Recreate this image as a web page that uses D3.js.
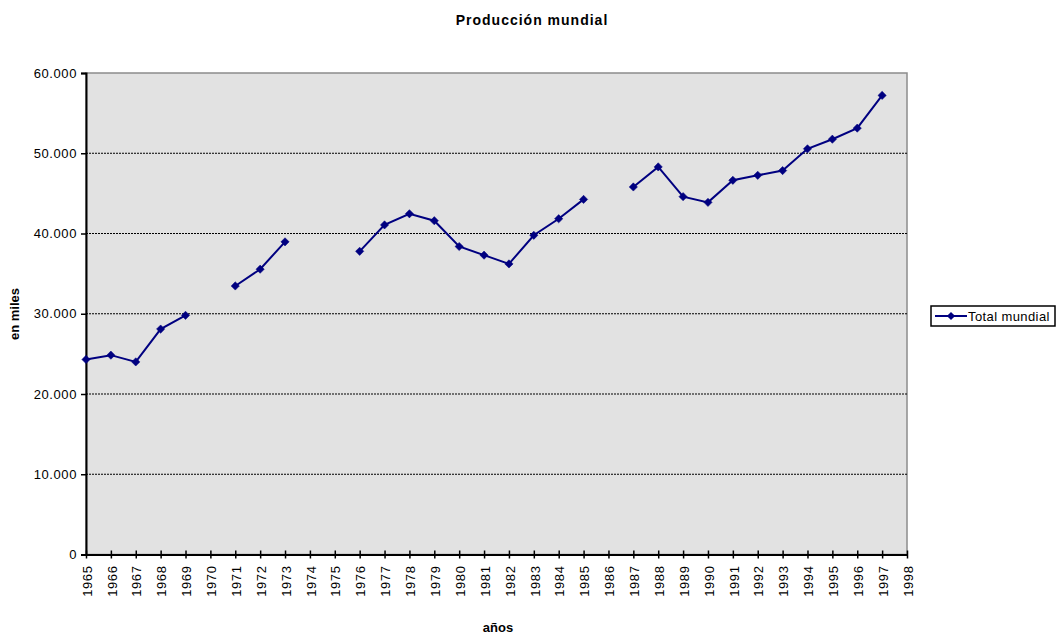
<!DOCTYPE html>
<html>
<head>
<meta charset="utf-8">
<script src="https://cdn.jsdelivr.net/npm/d3@7"></script>
<style>
  body { margin: 0; background: #ffffff; }
  text { font-family: "Liberation Sans", Arial, sans-serif; }
</style>
</head>
<body>
<div id="chart"></div>
<script>
// Producción mundial, line with gaps where there is no data

const years = d3.range(1965, 1999);
const produccion = [
  24300, 24840, 24000, 28090, 29800, null, 33460, 35550, 38960, null,
  null, 37780, 41070, 42460, 41590, 38380, 37300, 36210, 39780, 41840,
  44250, null, 45800, 48300, 44590, 43880, 46630, 47250, 47840, 50550,
  51750, 53130, 57210, null
];
const yTicks = [0, 10000, 20000, 30000, 40000, 50000, 60000];
const seriesName = "Total mundial";

const width = 1060, height = 634;
const margin = {top: 73, right: 153, bottom: 79.5, left: 86};

const svg = d3.select("#chart").append("svg")
    .attr("width", width)
    .attr("height", height);

const x = d3.scalePoint()
    .domain(years)
    .range([margin.left, width - margin.right]);

const y = d3.scaleLinear()
    .domain([0, 60000])
    .range([height - margin.bottom, margin.top]);

const es = d3.formatLocale({decimal: ",", thousands: ".", grouping: [3], currency: ["", ""]});
const fmt = es.format(",d");

// plot area
svg.append("rect")
    .attr("x", margin.left)
    .attr("y", margin.top)
    .attr("width", width - margin.right - margin.left)
    .attr("height", height - margin.bottom - margin.top)
    .attr("fill", "#e2e2e2")
    .attr("stroke", "#8c8c8c")
    .attr("stroke-width", 1.5);

// gridlines
svg.append("g")
    .selectAll("line")
    .data(yTicks.filter(d => d > 0 && d < 60000))
    .enter().append("line")
    .attr("x1", margin.left)
    .attr("x2", width - margin.right)
    .attr("y1", d => y(d))
    .attr("y2", d => y(d))
    .attr("stroke", "#000")
    .attr("stroke-width", 1)
    .attr("stroke-dasharray", "2,1");

// Y axis
const yAxis = svg.append("g")
    .attr("transform", "translate(" + margin.left + ",0)")
    .call(d3.axisLeft(y).tickValues(yTicks).tickFormat(fmt).tickSize(5).tickPadding(4));
yAxis.select(".domain").attr("stroke", "#000").attr("stroke-width", 2);
yAxis.selectAll(".tick line").attr("stroke", "#000").attr("stroke-width", 1.5);
yAxis.selectAll("text").attr("font-size", 13).attr("fill", "#000")
    .attr("letter-spacing", 0.6)
    .attr("font-family", "Liberation Sans, Arial, sans-serif");

// X axis
const xAxis = svg.append("g")
    .attr("transform", "translate(0," + (height - margin.bottom) + ")")
    .call(d3.axisBottom(x).tickSize(4).tickSizeOuter(0).tickPadding(0));
xAxis.select(".domain").attr("stroke", "#000").attr("stroke-width", 2);
xAxis.selectAll(".tick line").attr("stroke", "#000").attr("stroke-width", 1.5).attr("y1", -4);
xAxis.selectAll("text")
    .attr("font-size", 13)
    .attr("letter-spacing", 0.6)
    .attr("fill", "#000")
    .attr("font-family", "Liberation Sans, Arial, sans-serif")
    .attr("transform", "rotate(-90)")
    .attr("text-anchor", "end")
    .attr("x", -11)
    .attr("y", 0)
    .attr("dy", "0.4em");

// series line
const line = d3.line()
    .defined(d => d.v !== null)
    .x(d => x(d.year))
    .y(d => y(d.v));

const points = years.map((yr, i) => ({year: yr, v: produccion[i]}));

svg.append("path")
    .datum(points)
    .attr("fill", "none")
    .attr("stroke", "#000080")
    .attr("stroke-width", 2)
    .attr("d", line);

// diamond = square turned 45 degrees
const diamond = d3.symbol().type(d3.symbolSquare).size(34);

svg.selectAll(".marker")
    .data(points.filter(d => d.v !== null))
    .enter().append("path")
    .attr("class", "marker")
    .attr("d", diamond)
    .attr("transform", d => "translate(" + x(d.year) + "," + y(d.v) + ") rotate(45)")
    .attr("fill", "#000080")
    .attr("stroke", "#000080")
    .attr("stroke-width", 0.5);

// titles
svg.append("text")
    .attr("x", 532)
    .attr("y", 25)
    .attr("text-anchor", "middle")
    .attr("font-size", 14)
    .attr("letter-spacing", 1)
    .attr("font-weight", "bold")
    .text("Producción mundial");

svg.append("text")
    .attr("x", 498)
    .attr("y", 632)
    .attr("text-anchor", "middle")
    .attr("font-size", 13)
    .attr("font-weight", "bold")
    .text("años");

svg.append("text")
    .attr("transform", "translate(19,314) rotate(-90)")
    .attr("text-anchor", "middle")
    .attr("font-size", 13)
    .attr("font-weight", "bold")
    .text("en miles");

// legend
const legend = svg.append("g").attr("transform", "translate(931,306)");
legend.append("rect")
    .attr("width", 124)
    .attr("height", 20)
    .attr("fill", "#fff")
    .attr("stroke", "#000")
    .attr("stroke-width", 1.5);
legend.append("line")
    .attr("x1", 4).attr("x2", 36)
    .attr("y1", 10).attr("y2", 10)
    .attr("stroke", "#000080")
    .attr("stroke-width", 2);
legend.append("path")
    .attr("d", diamond)
    .attr("transform", "translate(20,10) rotate(45)")
    .attr("fill", "#000080");
legend.append("text")
    .attr("x", 37)
    .attr("y", 14.5)
    .attr("font-size", 13)
    .attr("letter-spacing", 0.4)
    .text(seriesName);
</script>
</body>
</html>
